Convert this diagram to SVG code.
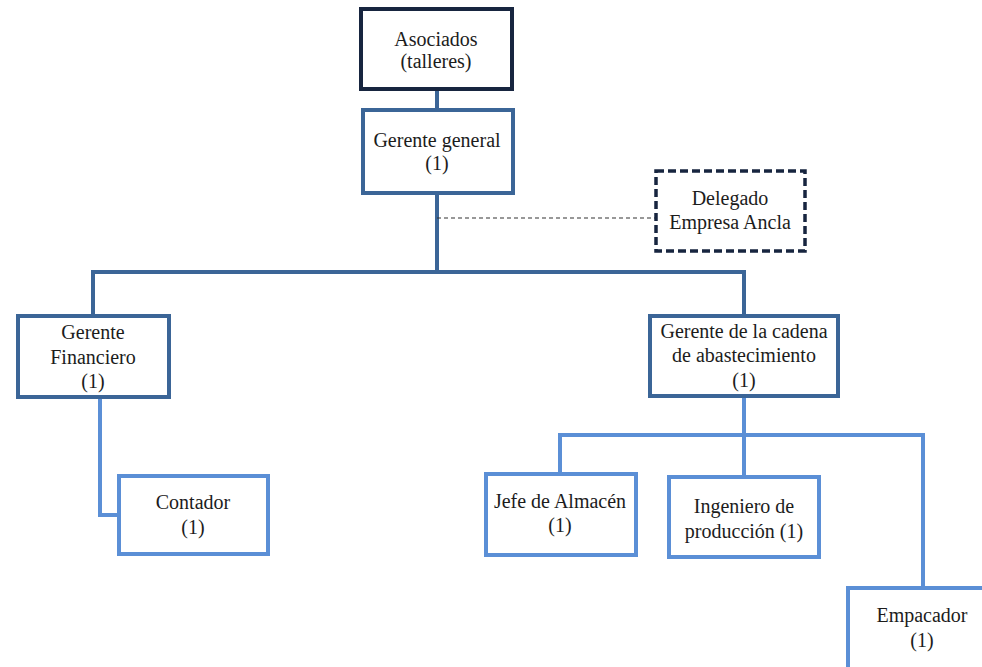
<svg xmlns="http://www.w3.org/2000/svg" width="982" height="667" viewBox="0 0 982 667">
  <style>
    text { font-family: "Liberation Serif", "DejaVu Serif", serif; font-size: 20px; fill: #1c1c1c; text-anchor: middle; }
    .box { fill: #ffffff; stroke-width: 4; }
    .top { stroke: #17253f; }
    .mid { stroke: #3b6597; }
    .low { stroke: #5b8fd6; }
    .dash { stroke: #17253f; stroke-dasharray: 8 4; stroke-width: 3.5; }
    .lnMid { fill: none; stroke: #3b6597; stroke-width: 4; }
    .lnLow { fill: none; stroke: #5b8fd6; stroke-width: 4; }
    .lnDash { fill: none; stroke: #333; stroke-width: 1.2; stroke-dasharray: 4 3; }
  </style>

  <g id="connectors">
    <path class="lnMid" d="M437 89 V109"/>
    <path class="lnMid" d="M437 193 V272"/>
    <path class="lnMid" d="M93 315 V272 H744 V315"/>
    <path class="lnDash" d="M437 218 H655"/>
    <path class="lnLow" d="M100 397 V515 H118"/>
    <path class="lnLow" d="M744 396 V475"/>
    <path class="lnLow" d="M560 473 V435 H923 V587"/>
  </g>

  <g id="asociados">
    <rect class="box top" x="361" y="9" width="151" height="80"/>
    <text x="436" y="46">Asociados</text>
    <text x="436" y="68">(talleres)</text>
  </g>

  <g id="gerente-general">
    <rect class="box mid" x="363" y="110" width="150" height="83"/>
    <text x="437" y="147">Gerente general</text>
    <text x="437" y="170">(1)</text>
  </g>

  <g id="delegado">
    <rect class="box dash" x="656" y="171" width="149" height="80"/>
    <text x="730" y="205">Delegado</text>
    <text x="730" y="229">Empresa Ancla</text>
  </g>

  <g id="gerente-financiero">
    <rect class="box mid" x="18" y="316" width="151" height="81"/>
    <text x="93" y="339">Gerente</text>
    <text x="93" y="364">Financiero</text>
    <text x="93" y="388">(1)</text>
  </g>

  <g id="contador">
    <rect class="box low" x="119" y="476" width="149" height="78"/>
    <text x="193" y="509">Contador</text>
    <text x="193" y="534">(1)</text>
  </g>

  <g id="gerente-cadena">
    <rect class="box mid" x="650" y="316" width="188" height="80"/>
    <text x="744" y="338">Gerente de la  cadena</text>
    <text x="744" y="362">de abastecimiento</text>
    <text x="744" y="387">(1)</text>
  </g>

  <g id="jefe-almacen">
    <rect class="box low" x="486" y="474" width="150" height="81"/>
    <text x="560" y="508">Jefe de Almacén</text>
    <text x="560" y="532">(1)</text>
  </g>

  <g id="ingeniero-produccion">
    <rect class="box low" x="669" y="477" width="150" height="80"/>
    <text x="744" y="513">Ingeniero de</text>
    <text x="744" y="538">producción (1)</text>
  </g>

  <g id="empacador">
    <rect class="box low" x="848" y="588" width="150" height="82"/>
    <text x="922" y="622">Empacador</text>
    <text x="922" y="647">(1)</text>
  </g>
</svg>
